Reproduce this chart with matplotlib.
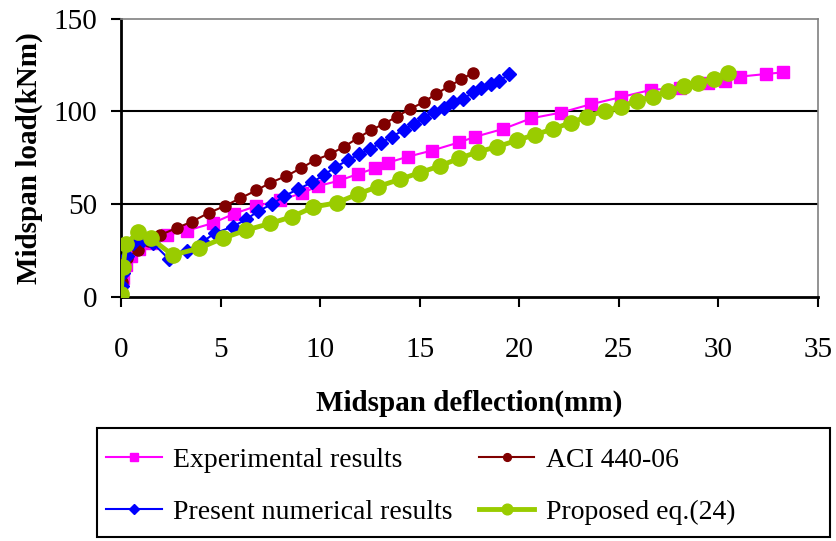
import numpy as np
import matplotlib
matplotlib.use('Agg')
from matplotlib import pyplot as plt
from matplotlib.patches import Rectangle

# Midspan deflection (mm) / load (kNm) for each series
exp_x = [0, 0.1, 0.25, 0.5, 0.9, 1.5, 2.3, 3.3, 4.6, 5.7, 6.8, 8.0, 9.1, 9.9, 10.95,
         11.9, 12.76, 13.4, 14.4, 15.6, 17.0, 17.8, 19.2, 20.6, 22.1, 23.6, 25.1,
         26.6, 28.1, 29.5, 30.35, 31.1, 32.4, 33.25]
exp_y = [2, 10, 17, 22, 26, 29, 33.4, 35.7, 39.8, 45, 49, 52.3, 56, 59.8, 62.7,
         66.3, 69.4, 72.4, 75.6, 78.9, 83.4, 86.4, 90.6, 96.3, 99.4, 103.9, 107.7,
         111.6, 112.8, 115.2, 116.4, 118.8, 120.2, 121.1]

aci_x = [0, 0.03, 0.1, 0.3, 0.85, 1.4, 1.96, 2.8, 3.55, 4.4, 5.2, 6.0, 6.8, 7.5,
         8.3, 9.05, 9.75, 10.5, 11.2, 11.9, 12.56, 13.2, 13.85, 14.5, 15.2, 15.8,
         16.5, 17.1, 17.7]
aci_y = [2, 8.2, 13.6, 21, 25.3, 30, 33.4, 37.2, 40.6, 45.3, 49, 53.3, 57.5, 61.6,
         65.2, 69.5, 73.8, 77, 81, 85.7, 90, 93.3, 97.2, 101.3, 105, 109.3,
         113.7, 117.4, 121]

num_x = [0, 0.05, 0.1, 0.3, 0.6, 1.1, 1.6, 2.4, 3.3, 4.1, 4.7, 5.6, 6.3, 6.9, 7.6,
         8.2, 8.9, 9.6, 10.2, 10.75, 11.4, 11.96, 12.5, 13.07, 13.6, 14.2, 14.7,
         15.2, 15.7, 16.2, 16.7, 17.2, 17.7, 18.1, 18.6, 19.0, 19.5]
num_y = [0, 6, 13, 22, 29, 30.7, 29, 20.5, 25, 29.8, 34.3, 37.9, 41.9, 46.4, 50.1,
         54.4, 58.2, 61.8, 65.8, 69.9, 73.8, 76.9, 79.6, 83.2, 86.4, 90, 93.3,
         96.3, 99.9, 101.7, 105, 106.6, 110.7, 112.5, 114.7, 116.6, 120]

prop_x = [0, 0.1, 0.25, 0.87, 1.5, 2.6, 3.9, 5.1, 6.3, 7.5, 8.6, 9.66, 10.84, 11.9,
          12.9, 14.0, 15.0, 16.0, 17.0, 17.95, 18.9, 19.9, 20.8, 21.7, 22.6, 23.4,
          24.3, 25.1, 25.9, 26.7, 27.5, 28.3, 29.0, 29.8, 30.5]
prop_y = [1.5, 16.3, 28.6, 35.2, 31.6, 22.6, 26.2, 31.6, 36.1, 39.7, 43.3, 48.5,
          50.8, 55.5, 59.5, 63.4, 67, 70.6, 74.8, 78.3, 81, 84.5, 87.5, 90.6, 94,
          97.2, 100.3, 102.6, 105.8, 108, 111.2, 113.7, 115.5, 117.7, 120.9]

x_ticks = [0, 5, 10, 15, 20, 25, 30, 35]
y_ticks = [0, 50, 100, 150]

plt.rcParams['font.family'] = ['Liberation Serif', 'DejaVu Serif']

fig = plt.figure(figsize=(8.37, 5.41), dpi=100)
ax = fig.add_axes([0.1446, 0.451, 0.8324, 0.5144])

l_exp, = ax.plot(exp_x, exp_y, color='#FF00FF', lw=1.5, marker='s', ms=8,
                 label='Experimental results', zorder=3)
l_aci, = ax.plot(aci_x, aci_y, color='#800000', lw=1.5, marker='o', ms=8,
                 label='ACI 440-06', zorder=3)
l_num, = ax.plot(num_x, num_y, color='#0000FF', lw=1.5, marker='D', ms=7.5,
                 label='Present numerical results', zorder=3)
l_prop, = ax.plot(prop_x, prop_y, color='#99CC00', lw=3.5, marker='o', ms=11,
                  label='Proposed eq.(24)', zorder=3)

ax.set_xlim(0, 35)
ax.set_ylim(0, 150)
ax.set_xticks(x_ticks)
ax.set_yticks(y_ticks)
ax.tick_params(labelsize=21, direction='out', length=7, width=1.5)
ax.tick_params(axis='x', pad=22)
ax.tick_params(axis='y', pad=10)

for y in y_ticks[1:3]:
    ax.axhline(y, color='black', lw=1.5, zorder=1)
for s in ['left', 'bottom']:
    ax.spines[s].set_linewidth(2)
for s in ['top', 'right']:
    ax.spines[s].set_color('#808080')
    ax.spines[s].set_linewidth(1.2)

ax.set_xlabel('Midspan deflection(mm)', fontsize=21, fontweight='bold', labelpad=19)
ax.set_ylabel('Midspan load(kNm)', fontsize=21, fontweight='bold', labelpad=8)

# legend box drawn separately so it can span the full width
fig.patches.append(Rectangle((0.1159, 0.0074), 0.8757, 0.2015, transform=fig.transFigure,
                             fill=False, edgecolor='black', lw=1.5))

# row-wise order: matplotlib fills legend columns first
handles = [l_exp, l_num, l_aci, l_prop]
leg = fig.legend(handles=handles, labels=[h.get_label() for h in handles],
                 loc='center left', bbox_to_anchor=(0.127, 0.1017),
                 ncol=2, fontsize=20, frameon=False,
                 handlelength=2.0, handletextpad=0.4, borderpad=0, borderaxespad=0,
                 labelspacing=0.95, columnspacing=0.95, markerscale=0.7)

plt.savefig('out.png', dpi=100)
